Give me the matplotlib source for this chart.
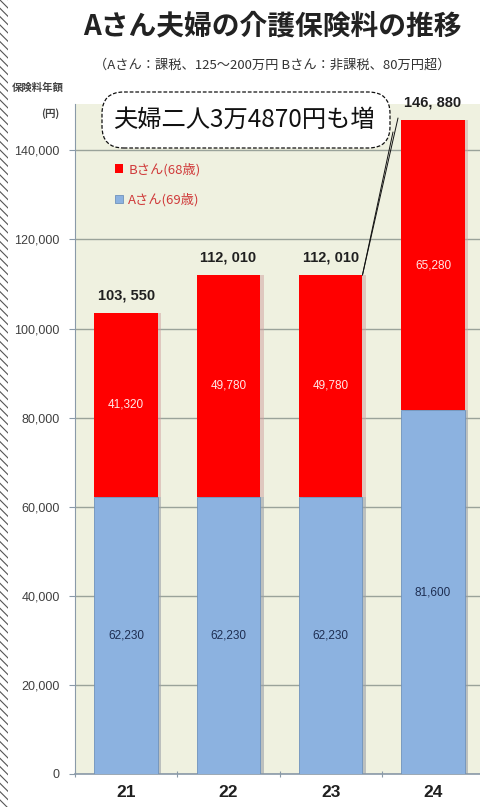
import matplotlib
matplotlib.use("Agg")
import matplotlib.pyplot as plt
from matplotlib.patches import FancyBboxPatch, Rectangle
import numpy as np

plt.rcParams['font.family'] = ['Noto Sans CJK JP', 'DejaVu Sans']
plt.rcParams['hatch.linewidth'] = 0.8

# データ
years = ['21', '22', '23', '24']
a_vals = [62230, 62230, 62230, 81600]   # Aさん(69歳)
b_vals = [41320, 49780, 49780, 65280]   # Bさん(68歳)
totals = [103550, 112010, 112010, 146880]
y_ticks = [0, 20000, 40000, 60000, 80000, 100000, 120000, 140000]

W, H = 481, 807
fig = plt.figure(figsize=(W / 100, H / 100), dpi=100)

# 軸の位置（右側は画像の外まで続く）
ax_left, ax_bottom, ax_top = 75, 774, 104
ax_w = 102.3 * 5
ax = fig.add_axes([ax_left / W, (H - ax_bottom) / H, ax_w / W, (ax_bottom - ax_top) / H])
ax.set_facecolor('#eff1e0')
ax.set_xlim(-0.5, 4.5)
ax.set_ylim(0, 150400)

x = np.arange(len(years))
bw = 0.62

# 影
ax.bar(x + 0.035, a_vals, width=bw, color='#9aa0a8', alpha=0.6, zorder=2, lw=0)
ax.bar(x + 0.035, b_vals, bottom=a_vals, width=bw, color='#d0a0a0', alpha=0.5, zorder=2, lw=0)

bars_a = ax.bar(x, a_vals, width=bw, color='#8cb2e0', edgecolor='#6f92bb', lw=0.6,
                zorder=3, label='Aさん(69歳)')
bars_b = ax.bar(x, b_vals, bottom=a_vals, width=bw, color='#ff0000', lw=0,
                zorder=3, label='Bさん(68歳)')

num_font = dict(family=['Liberation Sans', 'DejaVu Sans'])

for i in range(len(years)):
    ax.text(x[i], a_vals[i] / 2, f"{a_vals[i]:,}", ha='center', va='center',
            fontsize=8.5, color='#1e2e52', zorder=5, **num_font)
    ax.text(x[i], a_vals[i] + b_vals[i] / 2, f"{b_vals[i]:,}", ha='center', va='center',
            fontsize=8.5, color='#ffe8e8', zorder=5, **num_font)
    ax.text(x[i], totals[i] + 2300, f"{totals[i]:,}".replace(',', ', '), ha='center',
            va='bottom', fontsize=10.5, fontweight='bold', color='#202020', zorder=5,
            **num_font)

# 軸・目盛り
ax.set_yticks(y_ticks)
ax.set_yticklabels([f"{v:,}" for v in y_ticks], fontsize=9, color='#404040', **num_font)
ax.yaxis.grid(True, color='#9aa39a', lw=1.0, zorder=1)
ax.set_axisbelow(True)
ax.tick_params(axis='y', length=4, width=0.8, color='#8a9aa8', pad=7)

ax.set_xticks(x)
ax.set_xticklabels(years, fontsize=12.5, fontweight='bold', color='#202020', **num_font)
ax.set_xticks(np.arange(-0.5, 4.6, 1), minor=True)
ax.tick_params(axis='x', which='major', length=0, pad=8)
ax.tick_params(axis='x', which='minor', length=5, width=0.8, color='#8a9aa8', direction='inout')

for s in ['top', 'right']:
    ax.spines[s].set_visible(False)
ax.spines['left'].set_color('#8a9aa8')
ax.spines['bottom'].set_color('#8a9aa8')
ax.spines['bottom'].set_linewidth(1.2)

# 凡例
leg = ax.legend(handles=[bars_b, bars_a], loc='upper left', bbox_to_anchor=(0.055, 0.93),
                frameon=False, fontsize=9.5, handlelength=0.6, handleheight=0.6,
                handletextpad=0.4, labelspacing=1.3, labelcolor='#d03a3a')

# タイトル
fig.text(272 / W, 1 - 26 / H, 'Aさん夫婦の介護保険料の推移', ha='center', va='center',
         fontsize=20, fontweight='bold', color='#222222')
fig.text(272 / W, 1 - 65 / H, '（Aさん：課税、125〜200万円 Bさん：非課税、80万円超）',
         ha='center', va='center', fontsize=9.5, color='#333333')
fig.text(38 / W, 1 - 88 / H, '保険料年額', ha='center', va='center', fontsize=7.5,
         fontweight='bold', color='#444444')
fig.text(50 / W, 1 - 114 / H, '(円)', ha='center', va='center', fontsize=7.5,
         fontweight='bold', color='#444444')

# 吹き出し
box = FancyBboxPatch((102 / W, 1 - 148 / H), 288 / W, 56 / H,
                     boxstyle='round,pad=0,rounding_size=0.045',
                     transform=fig.transFigure, facecolor='white', edgecolor='#111111',
                     lw=0.9, ls=(0, (3, 1.5)), zorder=10, mutation_aspect=W / H)
fig.patches.append(box)
fig.text(244 / W, 1 - 120 / H, '夫婦二人3万4870円も増', ha='center', va='center',
         fontsize=17.5, color='#111111', zorder=11)
for px, py in [(398, 118), (393, 132)]:
    ax.annotate('', xy=(x[2] + bw / 2, totals[2]), xycoords='data',
                xytext=(px / W, 1 - py / H), textcoords='figure fraction',
                arrowprops=dict(arrowstyle='-', color='#111111', lw=0.7,
                                shrinkA=0, shrinkB=0), zorder=9)

# 左端の斜線
fig.patches.append(Rectangle((0, 0), 8 / W, 1, transform=fig.transFigure, facecolor='white',
                             edgecolor='#555555', hatch='\\\\\\\\', lw=0))

fig.savefig('out.png', dpi=100)
